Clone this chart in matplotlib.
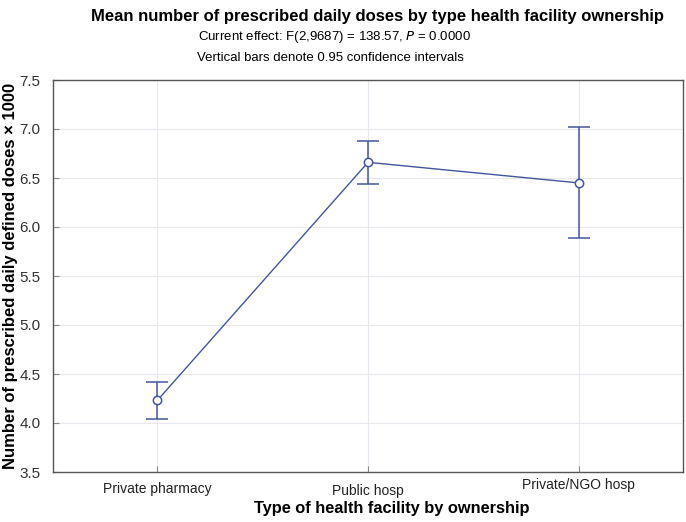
import matplotlib
matplotlib.use("Agg")
import matplotlib.pyplot as plt

categories = ["Private pharmacy", "Public hosp", "Private/NGO hosp"]
means = [4.23, 6.66, 6.45]
ci_low = [4.04, 6.44, 5.89]
ci_high = [4.42, 6.88, 7.02]
yticks = [3.5, 4.0, 4.5, 5.0, 5.5, 6.0, 6.5, 7.0, 7.5]

plt.rcParams['font.family'] = ['Liberation Sans', 'DejaVu Sans']
color = '#43569e'

fig = plt.figure(figsize=(6.86, 5.22), dpi=100)
ax = fig.add_axes([53/686, 1-472/522, (683-53)/686, (472-80)/522])

x = list(range(len(categories)))
yerr = [[m - l for m, l in zip(means, ci_low)], [h - m for m, h in zip(means, ci_high)]]
ax.errorbar(x, means, yerr=yerr, color=color, lw=1.0, elinewidth=1.1, capsize=8, capthick=1.1,
            marker='o', markersize=6, markerfacecolor='white', markeredgecolor=color, markeredgewidth=1.1,
            zorder=3)

ax.set_xlim(-0.495, 2.495)
ax.set_ylim(3.5, 7.5)
ax.set_yticks(yticks)
ax.set_yticklabels([f"{v:.1f}" for v in yticks], fontsize=11, color='#333333')
ax.set_xticks(x)
ax.set_xticklabels(categories, fontsize=10, color='#222222')

ax.grid(True, color='#e8e8ee', lw=0.8)
ax.set_axisbelow(True)
for s in ax.spines.values():
    s.set_color('#555555')
    s.set_linewidth(1.0)
ax.tick_params(axis='both', length=4, color='#888888', direction='in')
ax.tick_params(axis='y', pad=9)
pads = [7, 9, 4]
for t, p in zip(ax.xaxis.get_major_ticks(), pads):
    t.set_pad(p)

ax.set_ylabel("Number of prescribed daily defined doses × 1000", fontsize=12, fontweight='bold')
ax.yaxis.set_label_coords(-0.056, 0.5)
ax.set_xlabel("Type of health facility by ownership", fontsize=11.8, fontweight='bold', va='center')
ax.xaxis.set_label_coords(0.538, -0.093)

fig.text(0.551, 1-16/522, "Mean number of prescribed daily doses by type health facility ownership",
         ha='center', va='center', fontsize=11.95, fontweight='bold')
fig.text(0.488, 1-37/522, "Current effect: F(2,9687) = 138.57, $\\it{P}$ = 0.0000",
         ha='center', va='center', fontsize=9.5)
fig.text(0.482, 1-58/522, "Vertical bars denote 0.95 confidence intervals",
         ha='center', va='center', fontsize=9.5)

fig.savefig("out.png", dpi=100)
